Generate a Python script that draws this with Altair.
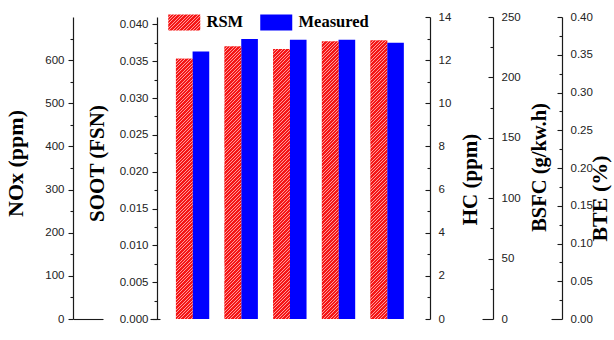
import altair as alt
import pandas as pd

# ---------------- data ----------------
metrics = ["NOx", "SOOT", "HC", "BSFC", "BTE"]
series_names = ["RSM", "Measured"]
rsm_values = [603, 0.0370, 12.52, 229.7, 0.369]
measured_values = [620, 0.0380, 12.95, 231.1, 0.366]

axis_titles = ["NOx (ppm)", "SOOT (FSN)", "HC (ppm)", "BSFC (g/kw.h)", "BTE (%)"]
axis_max = [700, 0.041, 14, 250, 0.40]
major_ticks = [
    [0, 100, 200, 300, 400, 500, 600],
    [0.000, 0.005, 0.010, 0.015, 0.020, 0.025, 0.030, 0.035, 0.040],
    [0, 2, 4, 6, 8, 10, 12, 14],
    [0, 50, 100, 150, 200, 250],
    [0.00, 0.05, 0.10, 0.15, 0.20, 0.25, 0.30, 0.35, 0.40],
]
minor_ticks = [
    [50, 150, 250, 350, 450, 550, 650],
    [0.0025, 0.0075, 0.0125, 0.0175, 0.0225, 0.0275, 0.0325, 0.0375],
    [1, 3, 5, 7, 9, 11, 13],
    [25, 75, 125, 175, 225],
    [0.025, 0.075, 0.125, 0.175, 0.225, 0.275, 0.325, 0.375],
]
label_formats = ["d", ".3f", "d", "d", ".2f"]

rows = []
for m, r, v in zip(metrics, rsm_values, measured_values):
    rows.append({"Metric": m, "Series": "RSM", "Value": r})
    rows.append({"Metric": m, "Series": "Measured", "Value": v})
df = pd.DataFrame(rows)

# ---------------- layout / style ----------------
W, H = 273, 302
PAD = {"left": 157, "top": 17, "right": 184, "bottom": 21}
axis_side = ["left", "left", "right", "right", "right"]
axis_offset = [84, 0, 0, 63, 132]
title_pad = [17, 12, 9, 9, -3]
title_y = [146, 146, 162, 150, 181]
title_size = [22, 21, 21, 20.5, 22]

P_INNER, P_OUTER, ALIGN = 0.3155, 0.4635, 0.42
step = W / (len(metrics) - P_INNER + 2 * P_OUTER)
bar_w = step * (1 - P_INNER) / 2

RED, STRIPE, BLUE = "#f41616", "#ff9a9a", "#0000ff"
LINE = "#1a1a1a"
LABEL = "#222222"
SANS, SERIF = "Liberation Sans", "Liberation Serif"


def hatch(w, h, period=3.4, line=1.0):
    t = (w + h) / (w * w + h * h)
    total = w + h
    stops = []
    k = 0
    while k * period < total:
        a = k * period / total
        b = min((k * period + period - line) / total, 1)
        c = min((k + 1) * period / total, 1)
        stops += [
            {"offset": round(a, 5), "color": RED},
            {"offset": round(b, 5), "color": RED},
            {"offset": round(b, 5), "color": STRIPE},
            {"offset": round(c, 5), "color": STRIPE},
        ]
        k += 1
    return {"gradient": "linear", "x1": 0, "y1": 0,
            "x2": round(t * w, 6), "y2": round(t * h, 6), "stops": stops}


def hatch_expr(w, h):
    g = hatch(w, h)
    st = ",".join("{offset:%s,color:'%s'}" % (s["offset"], s["color"]) for s in g["stops"])
    return "{gradient:'linear',x1:0,y1:0,x2:%s,y2:%s,stops:[%s]}" % (g["x2"], g["y2"], st)


x_axis = alt.Axis(orient="bottom", ticks=False, labelFont=SANS, labelFontSize=12,
                  labelColor=LABEL, labelPadding=8, labelAngle=0, domainColor=LINE,
                  domainWidth=1.2, title=None, grid=False)


def xenc(show):
    return alt.X("Metric:N", title=None, sort=metrics,
                 scale=alt.Scale(domain=metrics, paddingInner=P_INNER,
                                 paddingOuter=P_OUTER, align=ALIGN),
                 axis=x_axis if show else None)


xo = alt.XOffset("Series:N", sort=series_names,
                 scale=alt.Scale(domain=series_names, paddingInner=0, paddingOuter=0))

color = alt.Color(
    "Series:N", sort=series_names,
    scale=alt.Scale(domain=series_names,
                    range=[alt.ExprRef(expr=hatch_expr(32, 16)), BLUE]),
    legend=alt.Legend(orient="none", legendX=27, legendY=-3, direction="horizontal",
                      title=None, symbolType="M-3,-1H1V1H-3Z", symbolSize=256,
                      symbolStrokeWidth=0, symbolOpacity=1, labelFont=SERIF,
                      labelFontSize=16.5, labelFontWeight="bold", labelColor="black",
                      labelOffset=6, columnPadding=16, padding=0, labelBaseline="middle"),
)


def yenc(i, axis):
    return alt.Y("Value:Q", title=None,
                 scale=alt.Scale(domain=[0, axis_max[i]], nice=False, zero=True),
                 axis=axis)


def metric_chart(i):
    return alt.Chart(df).transform_filter(alt.datum.Metric == metrics[i])


def tick_layer(i, values, side, offset, size):
    ax = alt.Axis(orient=side, offset=offset, values=values, labels=False, domain=False,
                  ticks=True, tickSize=size, tickColor=LINE, tickWidth=1.1,
                  title=None, grid=False)
    return metric_chart(i).mark_bar(opacity=0).encode(
        x=xenc(False), xOffset=xo, y=yenc(i, ax))


layers = []
for i, m in enumerate(metrics):
    side = axis_side[i]
    off = axis_offset[i]
    common = dict(orient=side, offset=off, values=major_ticks[i], format=label_formats[i],
                  title=axis_titles[i], titleFont=SERIF, titleFontSize=title_size[i],
                  titleFontWeight="bold", titleColor="black", titleAngle=270,
                  titleAlign="center", titlePadding=title_pad[i], titleY=title_y[i],
                  labelFont=SANS, labelFontSize=11.5, labelColor=LABEL,
                  labelOverlap=False, labelFlush=False,
                  domainColor=LINE, domainWidth=1.2, grid=False)
    if side == "left":
        main_axis = alt.Axis(ticks=True, tickSize=5, tickColor=LINE, tickWidth=1.1,
                             labelPadding=4, titleBaseline="bottom", **common)
    else:
        main_axis = alt.Axis(ticks=False, labelPadding=8, titleBaseline="top", **common)

    base = metric_chart(i).mark_bar().encode(
        x=xenc(i == 0), xOffset=xo, y=yenc(i, main_axis), color=color)
    layers.append(base)

    h_rsm = rsm_values[i] / axis_max[i] * H
    over = metric_chart(i).transform_filter(alt.datum.Series == "RSM").mark_bar(
        fill=hatch(bar_w, h_rsm)).encode(x=xenc(False), xOffset=xo, y=yenc(i, None))
    layers.append(over)

    if side == "left":
        layers.append(tick_layer(i, minor_ticks[i], side, off, 3))
    else:
        majors = [v for v in major_ticks[i] if v != 0 or i == 2]
        layers.append(tick_layer(i, majors, side, off - 5, 5))
        layers.append(tick_layer(i, minor_ticks[i], side, off - 3, 3))

# zero-level strokes of the offset axes
layers.append(tick_layer(0, [0], "left", axis_offset[0] - 30, 30))
layers.append(tick_layer(1, [0], "left", -3, 10))
layers.append(tick_layer(3, [0], "right", axis_offset[3] - 11, 11))
layers.append(tick_layer(4, [0], "right", axis_offset[4] - 11, 11))

chart = alt.layer(*layers).resolve_scale(y="independent").properties(
    width=W, height=H,
    autosize=alt.AutoSizeParams(type="none"),
    padding=PAD,
    background="white",
).configure_view(stroke=None)

chart.save("out.html", embed_options={"renderer": "svg", "actions": False})
